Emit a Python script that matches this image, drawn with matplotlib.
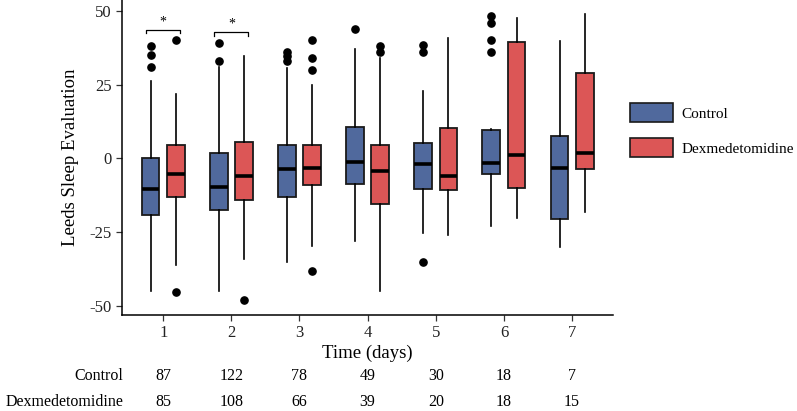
import numpy as np
import matplotlib
matplotlib.use("Agg")
import matplotlib.pyplot as plt
from matplotlib.patches import Patch
from matplotlib.transforms import blended_transform_factory

plt.rcParams['font.family'] = ['Liberation Serif', 'DejaVu Serif']

# data
days = [1, 2, 3, 4, 5, 6, 7]

control_med = [-10.2, -9.6, -3.6, -1.1, -1.8, -1.6, -3.1]
control_q1 = [-19.2, -17.5, -13.0, -8.5, -10.2, -5.1, -20.4]
control_q3 = [0.0, 1.9, 4.7, 10.8, 5.3, 9.5, 7.5]
control_lo = [-45.0, -45.0, -35.1, -28.1, -25.1, -23.0, -30.1]
control_hi = [26.2, 31.0, 30.7, 37.0, 22.8, 10.0, 39.9]
control_out = [[38, 35, 31], [39, 33], [36.2, 34.7, 33], [44],
               [38.4, 36, -35.1], [48.2, 46, 40, 36], []]

dex_med = [-5.1, -5.8, -3.2, -4.1, -5.9, 1.3, 1.9]
dex_q1 = [-13.2, -14.1, -9.0, -15.6, -10.7, -10.1, -3.7]
dex_q3 = [4.4, 5.5, 4.5, 4.4, 10.3, 39.4, 29.0]
dex_lo = [-36.2, -34.0, -29.7, -45.0, -26.1, -20.1, -18.0]
dex_hi = [21.8, 34.8, 24.8, 33.9, 40.9, 47.7, 48.8]
dex_out = [[40, -45.2], [-48], [40, 34, 30, -38], [38, 36], [], [], []]

control_n = [87, 122, 78, 49, 30, 18, 7]
dex_n = [85, 108, 66, 39, 20, 18, 15]

# significance brackets: (day, bracket height)
signif = [(1, 43.7), (2, 42.8)]

groups = ['Control', 'Dexmedetomidine']
colors = ['#50699D', '#DC5656']


def make_stats(med, q1, q3, lo, hi, out):
    stats = []
    for i in range(len(med)):
        stats.append(dict(med=med[i], q1=q1[i], q3=q3[i], whislo=lo[i],
                          whishi=hi[i], fliers=out[i]))
    return stats


fig = plt.figure(figsize=(7.97, 4.11), dpi=100)
ax = fig.add_axes([122.3 / 797, 1 - 315 / 411, (613 - 122.3) / 797, 315 / 411])

offset = 0.185
width = 0.26
pos = np.array(days, dtype=float)

for k, (st, col) in enumerate([
        (make_stats(control_med, control_q1, control_q3, control_lo, control_hi, control_out), colors[0]),
        (make_stats(dex_med, dex_q1, dex_q3, dex_lo, dex_hi, dex_out), colors[1])]):
    ax.bxp(st, positions=pos + (k * 2 - 1) * offset, widths=width,
           patch_artist=True, showcaps=False, manage_ticks=False,
           boxprops=dict(facecolor=col, edgecolor='#1a1a1a', linewidth=1.3),
           medianprops=dict(color='black', linewidth=2.6),
           whiskerprops=dict(color='black', linewidth=1.2),
           flierprops=dict(marker='o', markerfacecolor='black',
                           markeredgecolor='black', markersize=5.2))

# brackets
for d, h in signif:
    ax.plot([d - 0.25, d - 0.25, d + 0.25, d + 0.25], [h - 1.2, h, h, h - 1.2],
            color='black', linewidth=0.9, clip_on=False)
    ax.text(d, h + 0.4, '*', ha='center', va='bottom', fontsize=10)

ax.set_xlim(0.4, 7.6)
ax.set_ylim(-53.05, 53.7)
ax.set_xticks(days)
ax.set_xticklabels([str(d) for d in days])
ax.set_yticks([-50, -25, 0, 25, 50])
ax.set_yticklabels(['-50', '-25', '0', '25', '50'])
ax.tick_params(labelsize=12, length=4, width=0.9, color='#333333', labelcolor='#222222')
for s in ['top', 'right']:
    ax.spines[s].set_visible(False)
for s in ['left', 'bottom']:
    ax.spines[s].set_linewidth(1.1)

ax.set_xlabel('Time (days)', fontsize=13.5, labelpad=2)
ax.set_ylabel('Leeds Sleep Evaluation', fontsize=13.5, labelpad=8)

# sample size table
tr = blended_transform_factory(ax.transData, fig.transFigure)
for row, (name, ns) in enumerate(zip(groups, [control_n, dex_n])):
    y = 1 - (376 + row * 26) / 411
    fig.text(123 / 797, y, name, ha='right', va='center', fontsize=11.5)
    for d, n in zip(days, ns):
        ax.text(d, y, str(n), transform=tr, ha='center', va='center',
                fontsize=11.5, clip_on=False)

# legend
handles = [Patch(facecolor=c, edgecolor='#1a1a1a', linewidth=1.2) for c in colors]
fig.legend(handles, groups, loc='upper left', bbox_to_anchor=(630 / 797, 1 - 103 / 411),
           frameon=False, fontsize=11, handlelength=2.8, handleheight=1.55,
           handletextpad=0.55, labelspacing=1.05, borderpad=0, borderaxespad=0)

fig.savefig('out.png', dpi=100)
